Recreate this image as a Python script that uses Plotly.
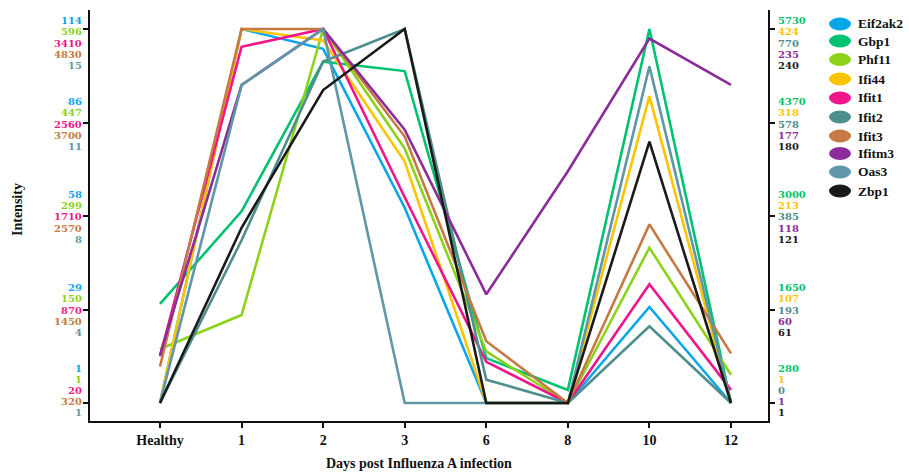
import plotly.graph_objects as go

# ---------------- data ----------------
days = ["Healthy", "1", "2", "3", "6", "8", "10", "12"]

gene_names = ["Eif2ak2", "Gbp1", "Phf11", "Ifi44", "Ifit1",
              "Ifit2", "Ifit3", "Ifitm3", "Oas3", "Zbp1"]

eif2ak2 = [1, 114, 108, 60, 1, 1, 30, 1]
gbp1 = [1724, 3073, 5253, 5117, 934, 471, 5730, 280]
phf11 = [87, 141, 596, 406, 83, 1, 248, 46]
ifi44 = [1, 424, 411, 274, 1, 1, 348, 1]
ifit1 = [444, 3249, 3410, 1885, 393, 20, 1096, 139]
ifit2 = [0, 335, 703, 770, 48, 0, 158, 0]
ifit3 = [760, 4830, 4830, 3533, 1064, 320, 2474, 918]
ifitm3 = [31, 200, 235, 172, 69, 146, 229, 200]
oas3 = [1, 12.9, 15, 1, 1, 1, 13.6, 1]
zbp1 = [1, 113, 201, 240, 1, 1, 168, 1]

# per-gene axis tick labels (bottom -> top)
ticks_eif2ak2 = [1, 29, 58, 86, 114]
ticks_gbp1 = [280, 1650, 3000, 4370, 5730]
ticks_phf11 = [1, 150, 299, 447, 596]
ticks_ifi44 = [1, 107, 213, 318, 424]
ticks_ifit1 = [20, 870, 1710, 2560, 3410]
ticks_ifit2 = [0, 193, 385, 578, 770]
ticks_ifit3 = [320, 1450, 2570, 3700, 4830]
ticks_ifitm3 = [1, 60, 118, 177, 235]
ticks_oas3 = [1, 4, 8, 11, 15]
ticks_zbp1 = [1, 61, 121, 180, 240]

series = [eif2ak2, gbp1, phf11, ifi44, ifit1, ifit2, ifit3, ifitm3, oas3, zbp1]
tick_sets = [ticks_eif2ak2, ticks_gbp1, ticks_phf11, ticks_ifi44, ticks_ifit1,
             ticks_ifit2, ticks_ifit3, ticks_ifitm3, ticks_oas3, ticks_zbp1]

colors = {
    "Eif2ak2": "#0AA6EC",
    "Gbp1": "#00C270",
    "Phf11": "#8DD21A",
    "Ifi44": "#FFC400",
    "Ifit1": "#F0158A",
    "Ifit2": "#4E8E8C",
    "Ifit3": "#C67A42",
    "Ifitm3": "#8C2C9C",
    "Oas3": "#5F97A8",
    "Zbp1": "#1A1A1A",
}

left_genes = ["Eif2ak2", "Phf11", "Ifit1", "Ifit3", "Oas3"]
right_genes = ["Gbp1", "Ifi44", "Ifit2", "Ifitm3", "Zbp1"]

# ---------------- geometry ----------------
W, H = 909, 474
L_PX, R_PX, T_PX, B_PX = 90, 768, 10, 421
LEVEL0_PX, LEVEL_STEP_PX = 403, 93.5
lvl_lo = -(B_PX - LEVEL0_PX) / LEVEL_STEP_PX
lvl_hi = (LEVEL0_PX - T_PX) / LEVEL_STEP_PX


def px(x):
    return (x - L_PX) / (R_PX - L_PX)


def py(y):
    return (B_PX - y) / (B_PX - T_PX)


x_first, x_step = 160, (731 - 160) / 7
x_range = [(L_PX - x_first) / x_step, (R_PX - x_first) / x_step]

SERIF = "Liberation Serif, Times New Roman, serif"
TICKFONT = "DejaVu Serif, serif"

fig = go.Figure()

# dummy trace on the frame axis
fig.add_trace(go.Scatter(x=[days[0]], y=[None], mode="lines", showlegend=False,
                         hoverinfo="skip"))

layout_axes = {}
draw_order = ["Eif2ak2", "Phf11", "Ifit1", "Ifit3", "Oas3", "Gbp1", "Ifi44",
              "Ifit2", "Ifitm3", "Zbp1"]
for name in draw_order:
    i = gene_names.index(name)
    vals = series[i]
    t = tick_sets[i]
    lo, hi = t[0], t[-1]
    step = (hi - lo) / 4
    ax_id = i + 2
    layout_axes[f"yaxis{ax_id}"] = dict(
        overlaying="y", visible=False, fixedrange=True,
        range=[lo + lvl_lo * step, lo + lvl_hi * step],
    )
    fig.add_trace(go.Scatter(
        x=days, y=vals, mode="lines", name=name, yaxis=f"y{ax_id}",
        line=dict(color=colors[name], width=2.6), showlegend=False,
    ))

annotations = []
shapes = []

# colored per-gene tick labels
group_centers = [390.5, 310, 217, 124, 43]
row_gap = 11.1
for side, glist in (("left", left_genes), ("right", right_genes)):
    for row, name in enumerate(glist):
        t = tick_sets[gene_names.index(name)]
        for lv, val in enumerate(t):
            yy = group_centers[lv] + (row - 2) * row_gap
            if side == "left":
                annotations.append(dict(
                    x=px(84), y=py(yy), xref="paper", yref="paper",
                    xanchor="right", yanchor="middle", showarrow=False,
                    text=str(val),
                    font=dict(family=TICKFONT, size=10, color=colors[name],
                              weight="bold")))
            else:
                annotations.append(dict(
                    x=px(776), y=py(yy), xref="paper", yref="paper",
                    xanchor="left", yanchor="middle", showarrow=False,
                    text=str(val),
                    font=dict(family=TICKFONT, size=10, color=colors[name],
                              weight="bold")))

# legend drawn manually
legend_y = [24, 41, 59.5, 79, 98, 117, 136, 153.5, 172, 191]
for name, yy in zip(gene_names, legend_y):
    shapes.append(dict(type="circle", xref="paper", yref="paper",
                       x0=px(829), x1=px(851), y0=py(yy - 6.5), y1=py(yy + 6.5),
                       fillcolor=colors[name], line=dict(width=0)))
    annotations.append(dict(x=px(856), y=py(yy), xref="paper", yref="paper",
                            xanchor="left", yanchor="middle", showarrow=False,
                            text=name,
                            font=dict(family=SERIF, size=13.5, color="#111",
                                      weight="bold")))

# axis titles
annotations.append(dict(x=px(419), y=py(463), xref="paper", yref="paper",
                        xanchor="center", yanchor="middle", showarrow=False,
                        text="Days post Influenza A infection",
                        font=dict(family=SERIF, size=14, color="#111",
                                  weight="bold")))
annotations.append(dict(x=px(18), y=py(210), xref="paper", yref="paper",
                        xanchor="center", yanchor="middle", showarrow=False,
                        textangle=-90, text="Intensity",
                        font=dict(family=SERIF, size=14, color="#111",
                                  weight="bold")))

fig.update_layout(
    width=W, height=H,
    margin=dict(l=L_PX, r=W - R_PX, t=T_PX, b=H - B_PX, pad=0),
    paper_bgcolor="white", plot_bgcolor="white",
    showlegend=False,
    xaxis=dict(
        type="category", categoryorder="array", categoryarray=days,
        range=x_range, showgrid=False, zeroline=False,
        showline=True, linecolor="#111", linewidth=2,
        ticks="outside", ticklen=5, tickwidth=1.5, tickcolor="#111",
        tickfont=dict(family=SERIF, size=14, color="#111", weight="bold"),
        fixedrange=True,
    ),
    yaxis=dict(
        range=[lvl_lo, lvl_hi], tickvals=[0, 1, 2, 3, 4],
        showticklabels=False, showgrid=False, zeroline=False,
        showline=True, linecolor="#111", linewidth=2, mirror="ticks",
        ticks="outside", ticklen=5, tickwidth=2, tickcolor="#111",
        fixedrange=True,
    ),
    annotations=annotations,
    shapes=shapes,
    **layout_axes,
)

fig.write_html("out.html")
